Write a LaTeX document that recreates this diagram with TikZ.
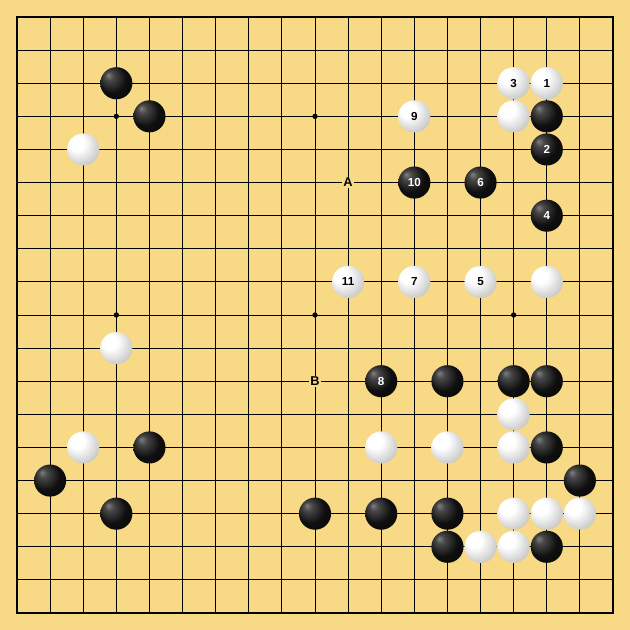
\documentclass[tikz,border=0pt]{standalone}
\usepackage{fontspec}
\setmainfont{Liberation Sans}
\definecolor{board}{RGB}{248,217,134}
\pgfdeclareradialshading{blackstone}{\pgfpoint{-13bp}{13bp}}{color(0bp)=(black!50); color(7bp)=(black!72); color(22bp)=(black!94); color(50bp)=(black)}
\pgfdeclareradialshading{whitestone}{\pgfpoint{-13bp}{13bp}}{color(0bp)=(white); color(12bp)=(white); color(32bp)=(black!22); color(52bp)=(black!50)}
\begin{document}
\begin{tikzpicture}[y = -1cm,
	stone/.style = {circle, inner sep = 0pt, minimum size = 0.97cm, font = \fontsize{10}{10}\selectfont\bfseries},
	bstone/.style = {stone, shade, shading = blackstone, text = white},
	wstone/.style = {stone, shade, shading = whitestone, text = black},
	hoshi/.style = {circle, fill = black, inner sep = 0pt, minimum size = 0.16cm},
	letter/.style = {fill = board, inner sep = 1pt, font = \fontsize{11}{11}\selectfont\bfseries}]
	% Board
	\useasboundingbox[fill = board] (-0.5135, -0.5135) rectangle (18.5135, 18.5135);
	\draw[line width = 0.75pt] (0, 0) grid (18, 18);
	\draw[line width = 1.6pt] (0, 0) rectangle (18, 18);
	\node[hoshi] (h1) at (3, 3) {};
	\node[hoshi] (h2) at (9, 3) {};
	\node[hoshi] (h3) at (15, 3) {};
	\node[hoshi] (h4) at (3, 9) {};
	\node[hoshi] (h5) at (9, 9) {};
	\node[hoshi] (h6) at (15, 9) {};
	\node[hoshi] (h7) at (3, 15) {};
	\node[hoshi] (h8) at (9, 15) {};
	\node[hoshi] (h9) at (15, 15) {};
	
	% Black stones
	\node[bstone] (b01) at (3, 2) {};
	\node[bstone] (b02) at (4, 3) {};
	\node[bstone] (b03) at (16, 3) {};
	\node[bstone] (b04) at (13, 11) {};
	\node[bstone] (b05) at (15, 11) {};
	\node[bstone] (b06) at (16, 11) {};
	\node[bstone] (b07) at (4, 13) {};
	\node[bstone] (b08) at (16, 13) {};
	\node[bstone] (b09) at (1, 14) {};
	\node[bstone] (b10) at (17, 14) {};
	\node[bstone] (b11) at (3, 15) {};
	\node[bstone] (b12) at (9, 15) {};
	\node[bstone] (b13) at (11, 15) {};
	\node[bstone] (b14) at (13, 15) {};
	\node[bstone] (b15) at (13, 16) {};
	\node[bstone] (b16) at (16, 16) {};
	
	% White stones
	\node[wstone] (w01) at (2, 4) {};
	\node[wstone] (w02) at (15, 3) {};
	\node[wstone] (w03) at (16, 8) {};
	\node[wstone] (w04) at (3, 10) {};
	\node[wstone] (w05) at (15, 12) {};
	\node[wstone] (w06) at (2, 13) {};
	\node[wstone] (w07) at (11, 13) {};
	\node[wstone] (w08) at (13, 13) {};
	\node[wstone] (w09) at (15, 13) {};
	\node[wstone] (w10) at (15, 15) {};
	\node[wstone] (w11) at (16, 15) {};
	\node[wstone] (w12) at (17, 15) {};
	\node[wstone] (w13) at (14, 16) {};
	\node[wstone] (w14) at (15, 16) {};
	
	% Moves
	\node[wstone] (m1) at (16, 2) {1};
	\node[bstone] (m2) at (16, 4) {2};
	\node[wstone] (m3) at (15, 2) {3};
	\node[bstone] (m4) at (16, 6) {4};
	\node[wstone] (m5) at (14, 8) {5};
	\node[bstone] (m6) at (14, 5) {6};
	\node[wstone] (m7) at (12, 8) {7};
	\node[bstone] (m8) at (11, 11) {8};
	\node[wstone] (m9) at (12, 3) {9};
	\node[bstone] (m10) at (12, 5) {10};
	\node[wstone] (m11) at (10, 8) {11};
	
	% Letters
	\node[letter] (A) at (10, 5) {A};
	\node[letter] (B) at (9, 11) {B};
\end{tikzpicture}
\end{document}
